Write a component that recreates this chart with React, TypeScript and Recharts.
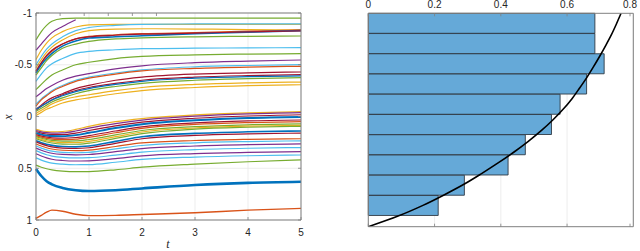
import { LineChart, Line, XAxis, YAxis, CartesianGrid, ComposedChart, Bar } from 'recharts';

// time samples (t) shared by every trajectory on the left panel
const times = [0, 0.1, 0.2, 0.3, 0.5, 0.75, 1, 1.5, 2, 3, 4, 5];
const tTicks = [0, 1, 2, 3, 4, 5];
const xTicks = [-1, -0.5, 0, 0.5, 1];

// upper group: trajectories that settle above 0
const u1 = [-0.74, -0.82, -0.88, -0.92, -0.945, -0.95, -0.95, -0.95, -0.95, -0.95, -0.95, -0.95];
const u2 = [-0.64, -0.7, -0.76, -0.81, -0.87, -0.935, null, null, null, null, null, null];
const u3 = [-0.55, -0.64, -0.71, -0.76, -0.82, -0.865, -0.885, -0.89, -0.89, -0.89, -0.89, -0.89];
const u4 = [-0.5, -0.58, -0.65, -0.7, -0.77, -0.83, -0.86, -0.88, -0.89, -0.894, -0.894, -0.894];
const u5 = [-0.47, -0.55, -0.62, -0.67, -0.74, -0.8, -0.83, -0.845, -0.848, -0.845, -0.84, -0.836];
const u6 = [-0.43, -0.51, -0.58, -0.63, -0.7, -0.75, -0.775, -0.79, -0.8, -0.81, -0.825, -0.836];
const u7 = [-0.42, -0.5, -0.56, -0.61, -0.68, -0.73, -0.758, -0.77, -0.78, -0.8, -0.815, -0.83];
const u8 = [-0.44, -0.52, -0.59, -0.64, -0.7, -0.75, -0.77, -0.785, -0.795, -0.805, -0.818, -0.828];
const u9 = [-0.4, -0.47, -0.54, -0.59, -0.66, -0.7, -0.726, -0.75, -0.76, -0.77, -0.775, -0.778];
const u10 = [-0.34, -0.41, -0.47, -0.51, -0.56, -0.61, -0.63, -0.645, -0.655, -0.66, -0.663, -0.665];
const u11 = [-0.26, -0.31, -0.36, -0.4, -0.45, -0.5, -0.524, -0.56, -0.58, -0.595, -0.603, -0.607];
const u12 = [-0.19, -0.23, -0.27, -0.3, -0.35, -0.39, -0.414, -0.46, -0.49, -0.52, -0.535, -0.546];
const u13 = [-0.12, -0.17, -0.21, -0.25, -0.3, -0.35, -0.38, -0.42, -0.45, -0.48, -0.493, -0.501];
const u14 = [-0.1, -0.16, -0.2, -0.24, -0.29, -0.34, -0.37, -0.41, -0.44, -0.465, -0.478, -0.485];
const u15 = [-0.07, -0.11, -0.15, -0.18, -0.22, -0.27, -0.3, -0.35, -0.38, -0.41, -0.422, -0.43];
const u16 = [-0.06, -0.1, -0.13, -0.16, -0.21, -0.25, -0.28, -0.32, -0.35, -0.38, -0.395, -0.404];
const u17 = [-0.07, -0.1, -0.13, -0.16, -0.2, -0.24, -0.27, -0.31, -0.34, -0.37, -0.385, -0.392];
const u18 = [-0.05, -0.08, -0.11, -0.14, -0.18, -0.22, -0.25, -0.29, -0.32, -0.35, -0.365, -0.375];
const u19 = [-0.03, -0.06, -0.09, -0.12, -0.16, -0.19, -0.21, -0.25, -0.28, -0.31, -0.325, -0.333];
const u20 = [-0.01, -0.04, -0.07, -0.09, -0.13, -0.16, -0.18, -0.22, -0.25, -0.28, -0.298, -0.307];

// lower group: trajectories that dip first, then drift back up
const l1 = [0.125, 0.138, 0.145, 0.148, 0.145, 0.125, 0.095, 0.05, 0.02, -0.015, -0.035, -0.047];
const l2 = [0.135, 0.148, 0.156, 0.16, 0.158, 0.14, 0.112, 0.068, 0.035, -0.003, -0.025, -0.037];
const l3 = [0.145, 0.16, 0.169, 0.174, 0.174, 0.16, 0.135, 0.09, 0.055, 0.017, -0.005, -0.017];
const l4 = [0.16, 0.175, 0.184, 0.189, 0.19, 0.18, 0.158, 0.112, 0.075, 0.037, 0.015, 0.005];
const l5 = [0.175, 0.19, 0.2, 0.206, 0.21, 0.203, 0.185, 0.14, 0.1, 0.062, 0.043, 0.034];
const l6 = [0.185, 0.2, 0.211, 0.218, 0.224, 0.219, 0.202, 0.157, 0.115, 0.077, 0.059, 0.05];
const l7 = [0.195, 0.21, 0.222, 0.23, 0.238, 0.236, 0.222, 0.178, 0.135, 0.098, 0.08, 0.072];
const l8 = [0.205, 0.221, 0.234, 0.243, 0.252, 0.252, 0.24, 0.195, 0.15, 0.111, 0.093, 0.085];
const l9 = [0.215, 0.232, 0.246, 0.256, 0.266, 0.268, 0.257, 0.212, 0.165, 0.122, 0.104, 0.095];
const l10 = [0.235, 0.253, 0.268, 0.279, 0.29, 0.293, 0.285, 0.24, 0.195, 0.163, 0.148, 0.14];
const l11 = [0.245, 0.265, 0.281, 0.293, 0.305, 0.309, 0.302, 0.259, 0.215, 0.182, 0.168, 0.16];
const l12 = [0.265, 0.285, 0.302, 0.314, 0.326, 0.33, 0.325, 0.29, 0.255, 0.232, 0.221, 0.215];
const l13 = [0.285, 0.305, 0.322, 0.334, 0.346, 0.35, 0.346, 0.313, 0.28, 0.254, 0.242, 0.235];
const l14 = [0.305, 0.326, 0.343, 0.355, 0.366, 0.37, 0.367, 0.34, 0.31, 0.285, 0.272, 0.265];
const l15 = [0.33, 0.352, 0.37, 0.382, 0.395, 0.4, 0.398, 0.373, 0.345, 0.32, 0.307, 0.3];
const l16 = [0.36, 0.382, 0.4, 0.413, 0.425, 0.43, 0.429, 0.407, 0.38, 0.358, 0.347, 0.34];
const l17 = [0.4, 0.421, 0.438, 0.45, 0.461, 0.466, 0.465, 0.442, 0.415, 0.392, 0.379, 0.372];
const l18 = [0.47, 0.49, 0.505, 0.515, 0.527, 0.533, 0.532, 0.515, 0.49, 0.46, 0.437, 0.42];
const l19 = [0.507, 0.575, 0.625, 0.655, 0.69, 0.712, 0.72, 0.712, 0.695, 0.662, 0.641, 0.63];
const l20 = [0.985, 0.955, 0.925, 0.905, 0.915, 0.945, 0.958, 0.955, 0.947, 0.93, 0.905, 0.888];

// right panel: histogram bins (top to bottom) and the reference curve
const binCenters = ['0.953', '0.858', '0.763', '0.668', '0.573', '0.478', '0.384', '0.289', '0.194', '0.099'];
const binShare = [0.684, 0.684, 0.712, 0.659, 0.579, 0.553, 0.474, 0.422, 0.29, 0.211];
const shareTicks = [0, 0.2, 0.4, 0.6, 0.8];
const curvePos = [0, 0.05, 0.1, 0.15, 0.2, 0.25, 0.3, 0.35, 0.4, 0.45, 0.5, 0.55, 0.6, 0.65, 0.7, 0.75, 0.8, 0.85, 0.9, 0.95, 1];
const curveShare = [0, 0.09, 0.165, 0.23, 0.29, 0.343, 0.393, 0.44, 0.483, 0.522, 0.557, 0.588, 0.615, 0.638, 0.66, 0.68, 0.699, 0.717, 0.734, 0.749, 0.763];

const BLUE = '#0072BD';
const ORANGE = '#D95319';
const YELLOW = '#EDB120';
const PURPLE = '#7E2F8E';
const GREEN = '#77AC30';
const CYAN = '#4DBEEE';
const RED = '#A2142F';

const TEXT = '#262626';
const BOX = '#808080';
const GRID = '#e8e8e8';
const FONT = '"Liberation Sans", Arial, Helvetica, sans-serif';
const SERIF = '"Liberation Serif", "Times New Roman", serif';

const series = [
  { key: 'u1', data: u1, color: GREEN },
  { key: 'u2', data: u2, color: PURPLE },
  { key: 'u3', data: u3, color: YELLOW },
  { key: 'u4', data: u4, color: CYAN },
  { key: 'u5', data: u5, color: YELLOW },
  { key: 'u6', data: u6, color: ORANGE },
  { key: 'u7', data: u7, color: BLUE, width: 1.6 },
  { key: 'u8', data: u8, color: RED },
  { key: 'u9', data: u9, color: GREEN },
  { key: 'u10', data: u10, color: CYAN },
  { key: 'u11', data: u11, color: GREEN },
  { key: 'u12', data: u12, color: PURPLE },
  { key: 'u13', data: u13, color: CYAN },
  { key: 'u14', data: u14, color: ORANGE },
  { key: 'u15', data: u15, color: RED },
  { key: 'u16', data: u16, color: RED },
  { key: 'u17', data: u17, color: BLUE },
  { key: 'u18', data: u18, color: GREEN },
  { key: 'u19', data: u19, color: YELLOW },
  { key: 'u20', data: u20, color: YELLOW },
  { key: 'l1', data: l1, color: YELLOW },
  { key: 'l2', data: l2, color: PURPLE },
  { key: 'l3', data: l3, color: RED },
  { key: 'l4', data: l4, color: BLUE, width: 2 },
  { key: 'l5', data: l5, color: RED },
  { key: 'l6', data: l6, color: ORANGE },
  { key: 'l7', data: l7, color: GREEN },
  { key: 'l8', data: l8, color: YELLOW },
  { key: 'l9', data: l9, color: GREEN },
  { key: 'l10', data: l10, color: BLUE, width: 1.6 },
  { key: 'l11', data: l11, color: RED },
  { key: 'l12', data: l12, color: ORANGE },
  { key: 'l13', data: l13, color: CYAN },
  { key: 'l14', data: l14, color: PURPLE },
  { key: 'l15', data: l15, color: CYAN },
  { key: 'l16', data: l16, color: PURPLE },
  { key: 'l17', data: l17, color: CYAN },
  { key: 'l18', data: l18, color: GREEN },
  { key: 'l19', data: l19, color: BLUE, width: 2.6 },
  { key: 'l20', data: l20, color: ORANGE, width: 1.4 },
];

const rows = times.map((t, i) => {
  const row: Record<string, number | null> = { t };
  series.forEach((s) => { row[s.key] = s.data[i]; });
  return row;
});

const bins = binCenters.map((bin, i) => ({ bin, share: binShare[i] }));
const curve = curveShare.map((v, i) => ({ v, y: curvePos[i] }));

// tick mark drawn inward from the axis line, optional label outside
function HTick({ x, y, payload, side, label }: any) {
  const dir = side === 'bottom' ? -1 : 1;
  return (
    <g>
      <line x1={x} y1={y} x2={x} y2={y + dir * 3} stroke={BOX} strokeWidth={0.8} />
      {label && (
        <text x={x} y={side === 'bottom' ? y + 16 : y - 5} textAnchor="middle" fontSize={10} fill={TEXT} fontFamily={FONT}>
          {payload.value}
        </text>
      )}
    </g>
  );
}

function VTick({ x, y, payload, side, label }: any) {
  const dir = side === 'left' ? 1 : -1;
  return (
    <g>
      <line x1={x} y1={y} x2={x + dir * 3} y2={y} stroke={BOX} strokeWidth={0.8} />
      {label && (
        <text x={x - 4} y={y + 3.5} textAnchor="end" fontSize={10} fill={TEXT} fontFamily={FONT}>
          {payload.value}
        </text>
      )}
    </g>
  );
}

function Trajectories() {
  return (
    <LineChart width={320} height={251} data={rows} margin={{ top: 12, right: 18, bottom: 11, left: 6 }}>
      <CartesianGrid stroke={GRID} strokeWidth={0.8} />
      <XAxis dataKey="t" type="number" domain={[0, 5]} ticks={tTicks} height={20} tickSize={0} tickMargin={0}
        tickLine={false} axisLine={{ stroke: BOX }} tick={(p: any) => <HTick {...p} side="bottom" label />} />
      <XAxis xAxisId="top" orientation="top" type="number" domain={[0, 5]} ticks={tTicks} allowDataOverflow height={1}
        tickSize={0} tickMargin={0} tickLine={false} axisLine={{ stroke: BOX }} tick={(p: any) => <HTick {...p} side="top" />} />
      <YAxis type="number" domain={[-1, 1]} reversed ticks={xTicks} width={30} tickSize={0} tickMargin={0}
        tickLine={false} axisLine={{ stroke: BOX }} tick={(p: any) => <VTick {...p} side="left" label />} />
      <YAxis yAxisId="right" orientation="right" type="number" domain={[-1, 1]} reversed ticks={xTicks} allowDataOverflow
        width={1} tickSize={0} tickMargin={0} tickLine={false} axisLine={{ stroke: BOX }} tick={(p: any) => <VTick {...p} side="right" />} />
      {series.map((s) => (
        <Line key={s.key} dataKey={s.key} type="monotone" stroke={s.color} strokeWidth={s.width ?? 1.2}
          dot={false} activeDot={false} isAnimationActive={false} />
      ))}
      <text x={7.5} y={117} transform="rotate(-90 7.5 117)" textAnchor="middle" dominantBaseline="central"
        fontFamily={SERIF} fontStyle="italic" fontSize={12} fill={TEXT}>x</text>
      <text x={168} y={243.5} textAnchor="middle" dominantBaseline="central"
        fontFamily={SERIF} fontStyle="italic" fontSize={12} fill={TEXT}>t</text>
    </LineChart>
  );
}

function Histogram() {
  return (
    <ComposedChart layout="vertical" width={320} height={251} data={bins} barCategoryGap={0} barGap={0}
      margin={{ top: 0, right: 5.7, bottom: 23.3, left: 47.3 }}>
      <CartesianGrid horizontal={false} yAxisId="bins" stroke={GRID} strokeWidth={0.8} />
      <XAxis type="number" orientation="top" domain={[0, 0.8]} ticks={shareTicks} height={13.3} tickSize={0} tickMargin={0}
        tickLine={false} axisLine={{ stroke: BOX }} tick={(p: any) => <HTick {...p} side="top" label />} />
      <XAxis xAxisId="bottom" type="number" domain={[0, 0.8]} ticks={shareTicks} allowDataOverflow height={1}
        tickSize={0} tickMargin={0} tickLine={false} axisLine={{ stroke: BOX }} tick={(p: any) => <HTick {...p} side="bottom" />} />
      <YAxis yAxisId="bins" type="category" dataKey="bin" width={1} padding={{ top: 0, bottom: 11 }}
        tick={false} tickLine={false} axisLine={{ stroke: BOX }} />
      <YAxis yAxisId="curve" orientation="right" type="number" dataKey="y" domain={[0, 1]} reversed allowDataOverflow
        width={1} tick={false} tickLine={false} axisLine={{ stroke: BOX }} />
      <Bar yAxisId="bins" dataKey="share" fill="#65A9D8" stroke="#303a44" strokeWidth={0.9} isAnimationActive={false} />
      <Line yAxisId="curve" data={curve} dataKey="v" type="monotone" stroke="#000" strokeWidth={1.6}
        dot={false} activeDot={false} isAnimationActive={false} />
    </ComposedChart>
  );
}

export default function App() {
  return (
    <div style={{ position: 'absolute', left: 0, top: 0, width: 640, height: 251, background: '#fff', fontFamily: FONT }}>
      <div style={{ position: 'absolute', left: 0, top: 0 }}>
        <Trajectories />
      </div>
      <div style={{ position: 'absolute', left: 320, top: 0 }}>
        <Histogram />
      </div>
    </div>
  );
}
